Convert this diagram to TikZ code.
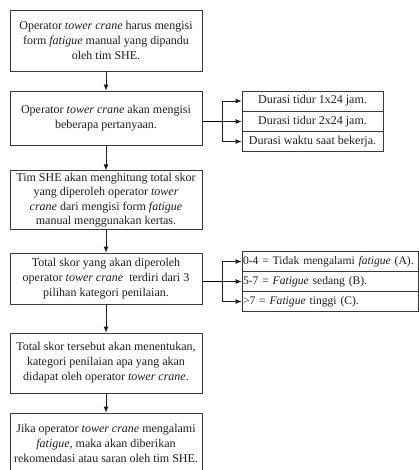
\documentclass[tikz,border=0pt]{standalone}
\usepackage{fontspec}
\setmainfont{Liberation Serif}
\usepackage{tikz}
\usetikzlibrary{positioning,arrows.meta,calc}
\definecolor{ink}    {HTML}{1E1E1E}
\definecolor{frame}  {HTML}{3A3A3A}
\tikzset{
  >={Latex[length=6pt,width=5pt]},
  every node/.style={font=\fontsize{12}{15}\selectfont, text=ink},
  % --- nodes
  stepbox/.style = {draw=frame, line width=0.8pt, align=center, inner sep=2pt,
                    minimum width=192pt},
  item/.style    = {draw=frame, line width=0.8pt, inner sep=2pt, minimum height=20pt},
  dur/.style     = {item, minimum width=141pt, align=center},
  kat/.style     = {item, inner xsep=1pt, text width=174pt, align=left,
                    font=\fontsize{11.6}{14}\selectfont},
  % --- edges
  e/.style       = {->, line width=0.8pt, draw=ink},
}

\begin{document}
\begin{tikzpicture}[x=1pt,y=1pt]
  \useasboundingbox (0,0) rectangle (419,-470);

  % --- main column
  \node[stepbox, minimum height=61pt] (s1) at (106,-40.5)
    {Operator \textit{tower crane} harus mengisi\\form \textit{fatigue} manual yang dipandu\\oleh tim SHE.};
  \node[stepbox, minimum height=54pt] (s2) at (106,-118)
    {Operator \textit{tower crane} akan mengisi\\beberapa pertanyaan.};
  \node[stepbox, minimum height=56pt, font=\fontsize{12}{14.5}\selectfont] (s3) at (106,-200)
    {Tim SHE akan menghitung total skor\\yang diperoleh operator \textit{tower}\\\textit{crane} dari mengisi form \textit{fatigue}\\manual menggunakan kertas.};
  \node[stepbox, minimum height=51pt] (s4) at (106,-278.5)
    {Total skor yang akan diperoleh\\operator \textit{tower crane}\ \ terdiri dari 3\\pilihan kategori penilaian.};
  \node[stepbox, minimum height=60pt] (s5) at (106,-363)
    {Total skor tersebut akan menentukan,\\kategori penilaian apa yang akan\\didapat oleh operator \textit{tower crane}.};
  \node[stepbox, minimum height=60pt] (s6) at (106,-443)
    {Jika operator \textit{tower crane} mengalami\\\textit{fatigue}, maka akan diberikan\\rekomendasi atau saran oleh tim SHE.};

  \foreach \a/\b in {s1/s2,s2/s3,s3/s4,s4/s5,s5/s6}
    \draw[e] (\a.south) -- (\b.north);

  % --- durations
  \node[dur] (d1) at (312.5,-101)   {Durasi tidur 1x24 jam.};
  \node[dur] (d2) at (312.5,-121.5) {Durasi tidur 2x24 jam.};
  \node[dur] (d3) at (312.5,-141.5) {Durasi waktu saat bekerja.};
  \coordinate (b1) at (222,-121.5);
  \draw[line width=0.8pt] (s2.east |- d2.west) -- (b1);
  \foreach \d in {d1,d2,d3}
    \draw[e] (b1) |- (\d.west);

  % --- categories
  \node[kat] (k1) at (330,-261.5) {0-4 = Tidak mengalami \textit{fatigue} (A).};
  \node[kat] (k2) at (330,-281.5) {5-7 = \textit{Fatigue} sedang (B).};
  \node[kat] (k3) at (330,-301.5) {>7 = \textit{Fatigue} tinggi (C).};
  \coordinate (b2) at (222,-281.5);
  \draw[line width=0.8pt] (s4.east |- k2.west) -- (b2);
  \foreach \k in {k1,k2,k3}
    \draw[e] (b2) |- (\k.west);
\end{tikzpicture}
\end{document}
